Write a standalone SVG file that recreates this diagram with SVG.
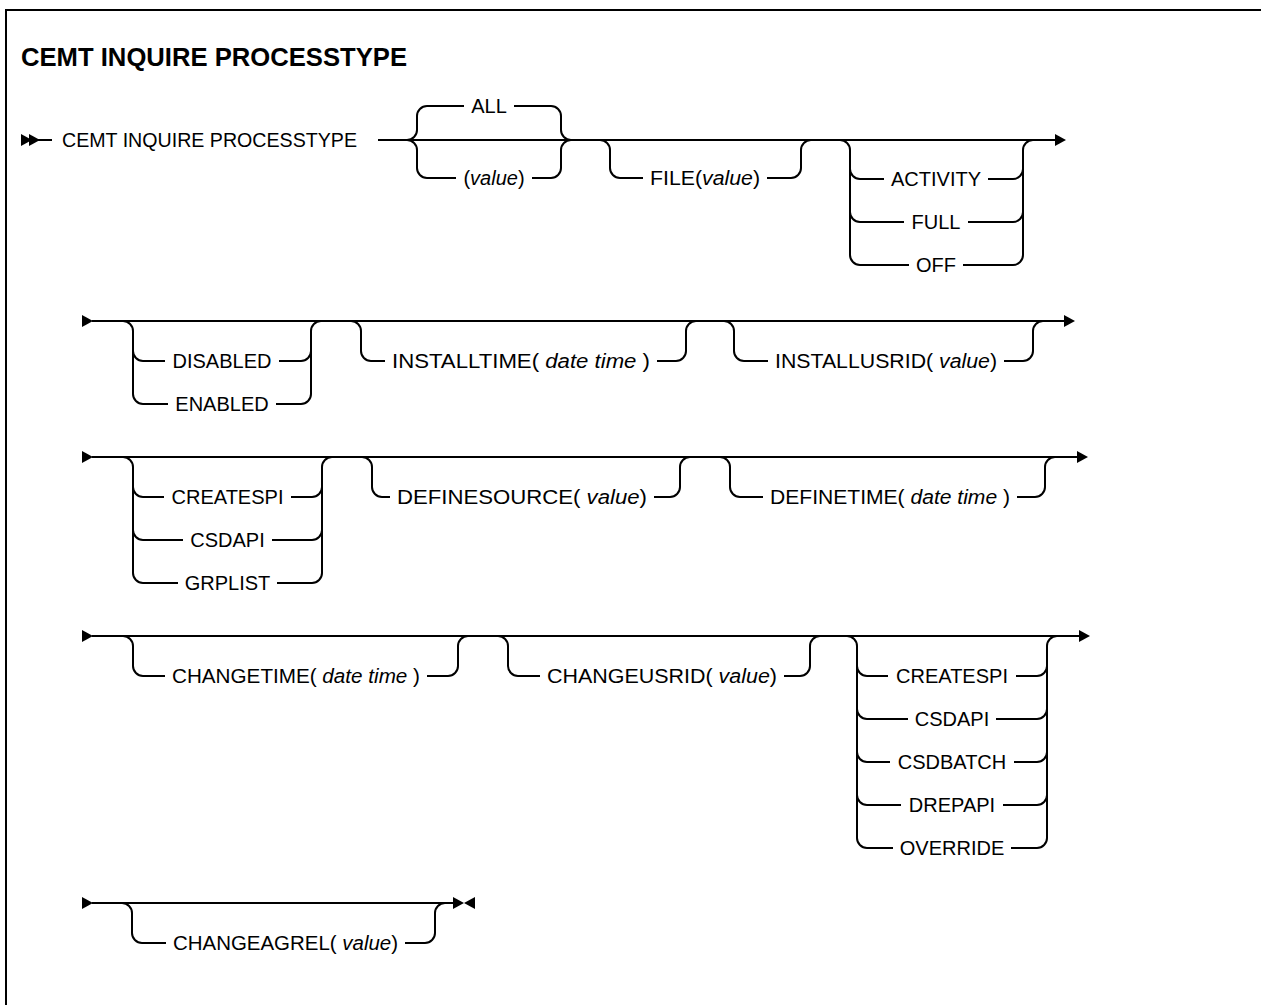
<svg xmlns="http://www.w3.org/2000/svg" xmlns:xlink="http://www.w3.org/1999/xlink" width="1261" height="1005" viewBox="0 0 1261 1005">
<style>
.ln{fill:none;stroke:#000;stroke-width:2}
.bd{fill:none;stroke:#000;stroke-width:2}
.t{font-family:"Liberation Sans",Arial,sans-serif;font-size:20px;fill:#000;text-anchor:middle}
.s{text-anchor:start}
.v{font-style:italic}
.ttl{font-family:"Liberation Sans",Arial,sans-serif;font-size:25.5px;font-weight:bold;fill:#000}
</style>
<defs>
<path id="ar" d="M0,-6 L11,0 L0,6 Z" fill="#000"/>
<path id="al" d="M0,-6 L-11,0 L0,6 Z" fill="#000"/>
</defs>
<rect width="1261" height="1005" fill="#fff"/>
<path class="bd" d="M6,1005 V10 H1261"/>
<text id="title" class="ttl" x="21" y="66" textLength="386" lengthAdjust="spacingAndGlyphs">CEMT INQUIRE PROCESSTYPE</text>

<g id="connectors">
<!-- row 1 -->
<use xlink:href="#ar" x="21" y="140"/>
<use xlink:href="#ar" x="29" y="140"/>
<path class="ln" d="M38,140 H52 M378,140 H1056"/>
<use xlink:href="#ar" x="1055" y="140"/>
<path class="ln" d="M407,140 A10,10 0 0 0 417,130 V116 A10,10 0 0 1 427,106 H464 M514,106 H551 A10,10 0 0 1 561,116 V130 A10,10 0 0 0 571,140"/>
<path class="ln" d="M407,140 A10,10 0 0 1 417,150 V168 A10,10 0 0 0 427,178 H456 M532,178 H551 A10,10 0 0 0 561,168 V150 A10,10 0 0 1 571,140"/>
<path class="ln" d="M600,140 A10,10 0 0 1 610,150 V168 A10,10 0 0 0 620,178 H643 M767,178 H791 A10,10 0 0 0 801,168 V150 A10,10 0 0 1 811,140"/>
<path class="ln" d="M840,140 A10,10 0 0 1 850,150 V255 A10,10 0 0 0 860,265 H909 M850,169 A10,10 0 0 0 860,179 H884 M850,212 A10,10 0 0 0 860,222 H904 M963,265 H1013 A10,10 0 0 0 1023,255 V150 A10,10 0 0 1 1033,140 M988,179 H1013 A10,10 0 0 0 1023,169 M968,222 H1013 A10,10 0 0 0 1023,212"/>
<!-- row 2 -->
<use xlink:href="#ar" x="82" y="321"/>
<path class="ln" d="M92,321 H1065"/>
<use xlink:href="#ar" x="1064" y="321"/>
<path class="ln" d="M123,321 A10,10 0 0 1 133,331 V394 A10,10 0 0 0 143,404 H168 M133,351 A10,10 0 0 0 143,361 H165 M276,404 H301 A10,10 0 0 0 311,394 V331 A10,10 0 0 1 321,321 M279,361 H301 A10,10 0 0 0 311,351"/>
<path class="ln" d="M351,321 A10,10 0 0 1 361,331 V351 A10,10 0 0 0 371,361 H385 M657,361 H676 A10,10 0 0 0 686,351 V331 A10,10 0 0 1 696,321"/>
<path class="ln" d="M724,321 A10,10 0 0 1 734,331 V351 A10,10 0 0 0 744,361 H768 M1004,361 H1023 A10,10 0 0 0 1033,351 V331 A10,10 0 0 1 1043,321"/>
<!-- row 3 -->
<use xlink:href="#ar" x="82" y="457"/>
<path class="ln" d="M92,457 H1078"/>
<use xlink:href="#ar" x="1077" y="457"/>
<path class="ln" d="M123,457 A10,10 0 0 1 133,467 V573 A10,10 0 0 0 143,583 H178 M133,487 A10,10 0 0 0 143,497 H164 M133,530 A10,10 0 0 0 143,540 H183 M277,583 H312 A10,10 0 0 0 322,573 V467 A10,10 0 0 1 332,457 M291,497 H312 A10,10 0 0 0 322,487 M272,540 H312 A10,10 0 0 0 322,530"/>
<path class="ln" d="M362,457 A10,10 0 0 1 372,467 V487 A10,10 0 0 0 382,497 H390 M654,497 H670 A10,10 0 0 0 680,487 V467 A10,10 0 0 1 690,457"/>
<path class="ln" d="M720,457 A10,10 0 0 1 730,467 V487 A10,10 0 0 0 740,497 H763 M1017,497 H1035 A10,10 0 0 0 1045,487 V467 A10,10 0 0 1 1055,457"/>
<!-- row 4 -->
<use xlink:href="#ar" x="82" y="636"/>
<path class="ln" d="M92,636 H1080"/>
<use xlink:href="#ar" x="1079" y="636"/>
<path class="ln" d="M123,636 A10,10 0 0 1 133,646 V666 A10,10 0 0 0 143,676 H165 M427,676 H448 A10,10 0 0 0 458,666 V646 A10,10 0 0 1 468,636"/>
<path class="ln" d="M498,636 A10,10 0 0 1 508,646 V666 A10,10 0 0 0 518,676 H540 M784,676 H800 A10,10 0 0 0 810,666 V646 A10,10 0 0 1 820,636"/>
<path class="ln" d="M847,636 A10,10 0 0 1 857,646 V838 A10,10 0 0 0 867,848 H893 M857,666 A10,10 0 0 0 867,676 H888 M857,709 A10,10 0 0 0 867,719 H908 M857,752 A10,10 0 0 0 867,762 H890 M857,795 A10,10 0 0 0 867,805 H901 M1011,848 H1037 A10,10 0 0 0 1047,838 V646 A10,10 0 0 1 1057,636 M1016,676 H1037 A10,10 0 0 0 1047,666 M996,719 H1037 A10,10 0 0 0 1047,709 M1014,762 H1037 A10,10 0 0 0 1047,752 M1003,805 H1037 A10,10 0 0 0 1047,795"/>
<!-- row 5 -->
<use xlink:href="#ar" x="82" y="903"/>
<path class="ln" d="M92,903 H454"/>
<use xlink:href="#ar" x="453" y="903"/>
<use xlink:href="#al" x="475" y="903"/>
<path class="ln" d="M122,903 A10,10 0 0 1 132,913 V933 A10,10 0 0 0 142,943 H166 M405,943 H425 A10,10 0 0 0 435,933 V913 A10,10 0 0 1 445,903"/>
</g>

<g id="n-start"><text class="t s" x="62" y="147" textLength="295" lengthAdjust="spacingAndGlyphs">CEMT INQUIRE PROCESSTYPE</text></g>
<g id="n-all"><text class="t" x="489" y="113">ALL</text></g>
<g id="n-value"><text class="t" x="494" y="185">(<tspan class="v">value</tspan>)</text></g>
<g id="n-file"><text class="t" x="705" y="185" textLength="110" lengthAdjust="spacingAndGlyphs">FILE(<tspan class="v">value</tspan>)</text></g>
<g id="n-activity"><text class="t" x="936" y="186">ACTIVITY</text></g>
<g id="n-full"><text class="t" x="936" y="229">FULL</text></g>
<g id="n-off"><text class="t" x="936" y="272">OFF</text></g>

<g id="n-disabled"><text class="t" x="222" y="368">DISABLED</text></g>
<g id="n-enabled"><text class="t" x="222" y="411">ENABLED</text></g>
<g id="n-installtime"><text class="t" x="521" y="368" textLength="258" lengthAdjust="spacingAndGlyphs">INSTALLTIME( <tspan class="v">date time</tspan> )</text></g>
<g id="n-installusrid"><text class="t" x="886" y="368" textLength="222" lengthAdjust="spacingAndGlyphs">INSTALLUSRID( <tspan class="v">value</tspan>)</text></g>

<g id="n-createspi1"><text class="t" x="227.5" y="504">CREATESPI</text></g>
<g id="n-csdapi1"><text class="t" x="227.5" y="547">CSDAPI</text></g>
<g id="n-grplist"><text class="t" x="227.5" y="590">GRPLIST</text></g>
<g id="n-definesource"><text class="t" x="522" y="504" textLength="250" lengthAdjust="spacingAndGlyphs">DEFINESOURCE( <tspan class="v">value</tspan>)</text></g>
<g id="n-definetime"><text class="t" x="890" y="504" textLength="240" lengthAdjust="spacingAndGlyphs">DEFINETIME( <tspan class="v">date time</tspan> )</text></g>

<g id="n-changetime"><text class="t" x="296" y="683" textLength="248" lengthAdjust="spacingAndGlyphs">CHANGETIME( <tspan class="v">date time</tspan> )</text></g>
<g id="n-changeusrid"><text class="t" x="662" y="683" textLength="230" lengthAdjust="spacingAndGlyphs">CHANGEUSRID( <tspan class="v">value</tspan>)</text></g>
<g id="n-createspi2"><text class="t" x="952" y="683">CREATESPI</text></g>
<g id="n-csdapi2"><text class="t" x="952" y="726">CSDAPI</text></g>
<g id="n-csdbatch"><text class="t" x="952" y="769">CSDBATCH</text></g>
<g id="n-drepapi"><text class="t" x="952" y="812">DREPAPI</text></g>
<g id="n-override"><text class="t" x="952" y="855">OVERRIDE</text></g>

<g id="n-changeagrel"><text class="t" x="285.5" y="950" textLength="225" lengthAdjust="spacingAndGlyphs">CHANGEAGREL( <tspan class="v">value</tspan>)</text></g>
</svg>
